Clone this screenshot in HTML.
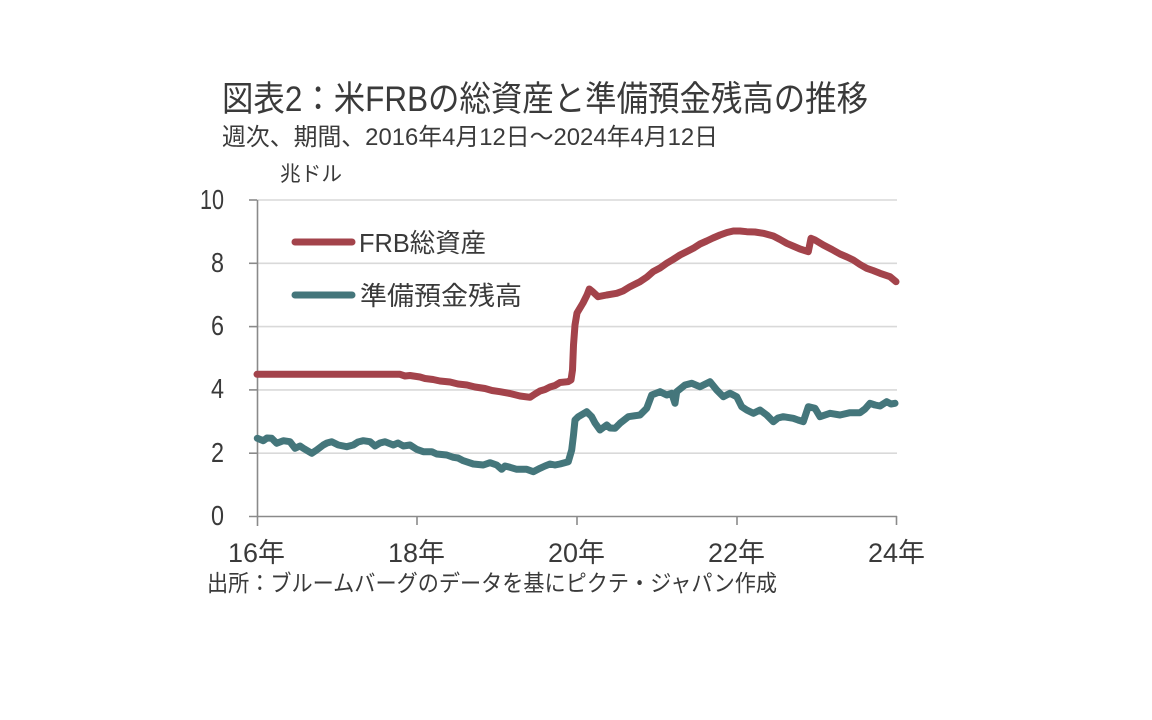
<!DOCTYPE html>
<html>
<head>
<meta charset="utf-8">
<style>
html,body{margin:0;padding:0;background:#fff;}
svg{display:block;}
text{font-family:"Liberation Sans","Noto Sans CJK JP",sans-serif;fill:#3a3a3a;}
</style>
</head>
<body>
<svg width="1152" height="720" viewBox="0 0 1152 720" xmlns="http://www.w3.org/2000/svg">
<rect width="1152" height="720" fill="#fff"/>
<!-- Title -->
<text x="222" y="111" font-size="35" textLength="646" lengthAdjust="spacingAndGlyphs">図表2：米FRBの総資産と準備預金残高の推移</text>
<text x="222" y="145" font-size="24" textLength="496" lengthAdjust="spacingAndGlyphs">週次、期間、2016年4月12日～2024年4月12日</text>
<text x="280" y="181" font-size="21" textLength="62" lengthAdjust="spacingAndGlyphs">兆ドル</text>

<!-- gridlines -->
<g stroke="#d9d9d9" stroke-width="1.6">
<line x1="257" y1="200" x2="897" y2="200"/>
<line x1="257" y1="263.3" x2="897" y2="263.3"/>
<line x1="257" y1="326.6" x2="897" y2="326.6"/>
<line x1="257" y1="389.9" x2="897" y2="389.9"/>
<line x1="257" y1="453.2" x2="897" y2="453.2"/>
</g>
<!-- axes -->
<g stroke="#8a8a8a" stroke-width="1.6" fill="none">
<line x1="257.5" y1="200" x2="257.5" y2="526"/>
<line x1="249" y1="516.5" x2="897" y2="516.5"/>
<line x1="249" y1="200" x2="257" y2="200"/>
<line x1="249" y1="263.3" x2="257" y2="263.3"/>
<line x1="249" y1="326.6" x2="257" y2="326.6"/>
<line x1="249" y1="389.9" x2="257" y2="389.9"/>
<line x1="249" y1="453.2" x2="257" y2="453.2"/>
<line x1="417" y1="516" x2="417" y2="525"/>
<line x1="577" y1="516" x2="577" y2="525"/>
<line x1="737" y1="516" x2="737" y2="525"/>
<line x1="896.5" y1="516" x2="896.5" y2="525"/>
</g>

<!-- y labels -->
<g font-size="28" text-anchor="end">
<text x="224" y="209" textLength="24" lengthAdjust="spacingAndGlyphs">10</text>
<text x="224" y="272" textLength="13" lengthAdjust="spacingAndGlyphs">8</text>
<text x="224" y="335" textLength="13" lengthAdjust="spacingAndGlyphs">6</text>
<text x="224" y="398" textLength="13" lengthAdjust="spacingAndGlyphs">4</text>
<text x="224" y="462" textLength="13" lengthAdjust="spacingAndGlyphs">2</text>
<text x="224" y="525" textLength="13" lengthAdjust="spacingAndGlyphs">0</text>
</g>

<!-- x labels -->
<g font-size="27">
<text x="228" y="562" textLength="57" lengthAdjust="spacingAndGlyphs">16年</text>
<text x="388" y="562" textLength="57" lengthAdjust="spacingAndGlyphs">18年</text>
<text x="548" y="562" textLength="57" lengthAdjust="spacingAndGlyphs">20年</text>
<text x="708" y="562" textLength="57" lengthAdjust="spacingAndGlyphs">22年</text>
<text x="868" y="562" textLength="57" lengthAdjust="spacingAndGlyphs">24年</text>
</g>

<!-- source -->
<text x="207" y="591" font-size="23" textLength="570" lengthAdjust="spacingAndGlyphs">出所：ブルームバーグのデータを基にピクテ・ジャパン作成</text>

<!-- legend -->
<line x1="295" y1="242" x2="352" y2="242" stroke="#a3434b" stroke-width="7" stroke-linecap="round"/>
<text x="359" y="252" font-size="26" textLength="127" lengthAdjust="spacingAndGlyphs">FRB総資産</text>
<line x1="295" y1="295" x2="352" y2="295" stroke="#44767b" stroke-width="7" stroke-linecap="round"/>
<text x="360" y="305" font-size="26" textLength="162" lengthAdjust="spacingAndGlyphs">準備預金残高</text>

<!-- series -->
<polyline fill="none" stroke="#a3434b" stroke-width="7" stroke-linejoin="round" stroke-linecap="round" points="
257,374.3 400,374.3 405,376 410,375.5 420,377 425,378.5 433,379.5 440,381 450,382 458,384 467,385 475,387 485,388.5 492,390.5 500,391.7 510,393.5 520,396 530,397.3 535,394 540,391 545,389.5 550,387 555,385.5 560,382.5 568,381.7 571,380
572.5,370 573.5,345 575,325 577,313 583,303 587,295 589.3,289 593,292 598,296.7 606.7,295 616.7,293.3 623,291 630,286.7 640,281.7 647,277 653,271.7 660,268 666.7,263.3 673,259.5 680,255 687,251.5 693.3,248.3 700,244 706.7,241 713,238 720,235 727,232.5 733.3,231 740,231 746.7,231.7 755,232 763.3,233.3 773.3,236 780,239.5 786.7,243.3 793,246 800,249 808.3,251.7 811,238.3 815,240 823.3,245 832,249.5 840,254 847,257 853.3,260 860,264.5 866.7,268.3 873,270.5 880,273.3 890,276.7 896,281.7"/>

<polyline fill="none" stroke="#44767b" stroke-width="7" stroke-linejoin="round" stroke-linecap="round" points="
257.3,438.3 263.3,440.7 267,438 271.7,438.3 276.7,443.3 283.3,440.7 290,441.7 295,448.3 300,446 303.3,448.3 311.7,453.3 316.7,450 323.3,445 327,443 331.7,441.7 338.3,445 346.7,446.7 353.3,445 358,442 363.3,440.7 370,441.7 375,446 380,443 385,441.7 393.3,445 398,443 403.3,446 410,445 416.7,449.3 423.3,451.7 431.7,451.7 436.7,454 446.7,455 453.3,457.3 458,458 463.3,460.7 473.3,464 483.3,465 490,462.7 496.7,465 501.7,469.3 505,466 510,467.3 516.7,469.3 526.7,469.3 533.3,471.7 540,468.3 545,466 550,464 555,465 560,464 568.3,461.7
571.7,450 573.5,435 575,420 578.3,416.7 586.7,411.7 591.7,416.7 595,423 600,430 606.7,425 610,428 615,428.3 620,423.3 628.3,416.7 640,415 646.7,408.3 651.7,395 660,391.7 666.7,395 671.7,393.3 675,403.3 676.7,391.7 685,385 691.7,383.3 700,386.7 710,381.7 716.7,390 723.3,396.7 730,393.3 736.7,396.7 741.7,406.7 746.7,410 753.3,413.3 760,410 766.7,415 773.3,421.7 778,418 783.3,416.7 793.3,418.3 798,420 803.3,421.7 808.3,406.7 815,408.3 820,416.7 830,413.3 840,415 850,412.7 860,412.7 865,409 870,403.3 875,405 880,406 886.7,401.7 891,404 895,403.3"/>
</svg>
</body>
</html>
